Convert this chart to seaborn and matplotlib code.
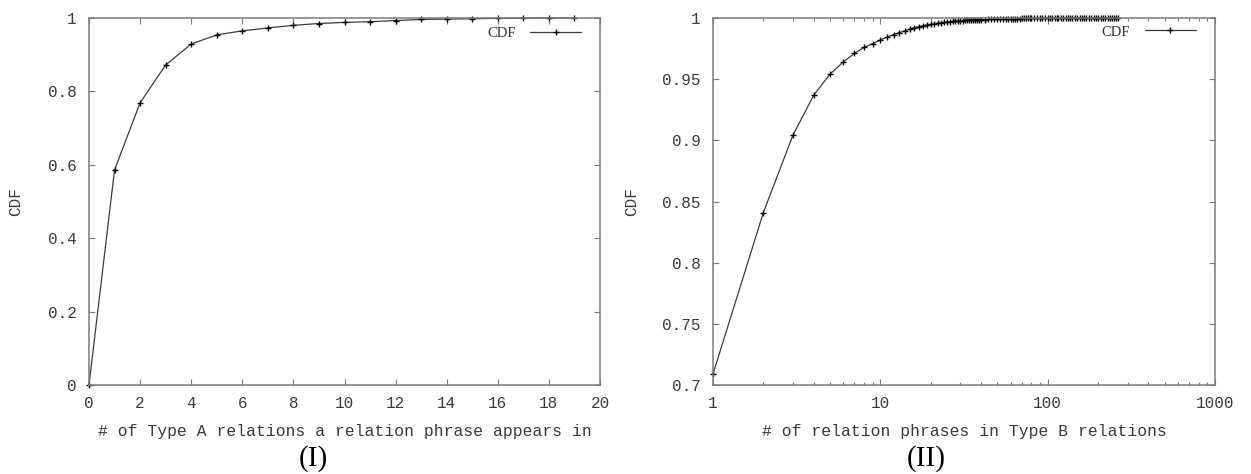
import matplotlib
matplotlib.use("Agg")
import matplotlib.pyplot as plt
import seaborn as sns
import pandas as pd
from matplotlib.ticker import FixedLocator, FuncFormatter, LogLocator, NullFormatter

# ---------------- data ----------------
a_x = [0, 1, 2, 3, 4, 5, 6, 7, 8, 9, 10, 11, 12, 13, 14, 15, 16, 17, 18, 19]
a_cdf = [0.0, 0.586, 0.769, 0.872, 0.929, 0.954, 0.965, 0.973, 0.980, 0.985,
         0.988, 0.990, 0.993, 0.996, 0.997, 0.998, 0.999, 0.9995, 0.9998, 1.0]

b_x = [1, 2, 3, 4, 5, 6, 7, 8, 9, 10, 11, 12, 13, 14, 15, 16, 17, 18, 19, 20,
       21, 22, 23, 24, 25, 26, 27, 28, 29, 30, 31, 32, 33, 34, 35, 36, 37, 38,
       39, 40, 42, 44, 46, 48, 50, 52, 54, 56, 58, 60, 62, 64, 66, 68, 70, 72,
       74, 76, 78, 80, 83, 86, 90, 93, 96, 100, 103, 106, 110, 113, 116, 120,
       124, 128, 132, 136, 140, 145, 150, 155, 160, 165, 170, 176, 182, 188,
       194, 200, 207, 214, 221, 228, 235, 242, 250, 257, 264]
b_cdf = [0.709, 0.841, 0.904, 0.937, 0.954, 0.964, 0.971, 0.976, 0.979, 0.982,
         0.9845, 0.9865, 0.988, 0.9895, 0.991, 0.992, 0.993, 0.9937, 0.9943, 0.9948,
         0.9953, 0.9957, 0.9961, 0.9964, 0.9967, 0.9970, 0.9972, 0.9974, 0.9976, 0.9978,
         0.9979, 0.9980, 0.9981, 0.9982, 0.9983, 0.9984, 0.99845, 0.9985, 0.99855, 0.9986,
         0.9987, 0.9988, 0.9989, 0.9990, 0.9991, 0.99915, 0.9992, 0.99925, 0.9993, 0.99935,
         0.9994, 0.99945, 0.9995, 0.99955, 0.9996, 0.99962, 0.99964, 0.99966, 0.99968, 0.9997,
         0.99972, 0.99974, 0.99976, 0.99978, 0.9998, 0.99982, 0.99983, 0.99984, 0.99985, 0.99986,
         0.99987, 0.99988, 0.99989, 0.9999, 0.99991, 0.99992, 0.99993, 0.99994, 0.99995, 0.99995,
         0.99996, 0.99996, 0.99997, 0.99997, 0.99998, 0.99998, 0.99999, 0.99999, 0.99999, 1.0,
         1.0, 1.0, 1.0, 1.0, 1.0, 1.0, 1.0]

a_xticks = [0, 2, 4, 6, 8, 10, 12, 14, 16, 18, 20]
a_yticks = [0, 0.2, 0.4, 0.6, 0.8, 1.0]
b_xticks = [1, 10, 100, 1000]
b_yticks = [0.7, 0.75, 0.8, 0.85, 0.9, 0.95, 1.0]

a_xlabel = "# of Type A relations a relation phrase appears in"
b_xlabel = "# of relation phrases in Type B relations"
y_label = "CDF"
series_name = "CDF"
panel_labels = ["(I)", "(II)"]

# ---------------- style ----------------
sns.set_style("ticks")
plt.rcParams["font.family"] = ["Liberation Mono", "DejaVu Sans Mono"]

W, H = 1251, 474
fig = plt.figure(figsize=(W / 100, H / 100), dpi=100)
ax1 = fig.add_axes([89 / W, 1 - 385 / H, 511 / W, 367 / H])
ax2 = fig.add_axes([713 / W, 1 - 385 / H, 502 / W, 367 / H])

dfA = pd.DataFrame({"x": a_x, "cdf": a_cdf})
dfB = pd.DataFrame({"x": b_x, "cdf": b_cdf})

line_kw = dict(color="#3c3c3c", linewidth=0.9, marker="+", markersize=4.8,
               markeredgecolor="black", markeredgewidth=1.0, clip_on=False,
               label=series_name)
sns.lineplot(data=dfA, x="x", y="cdf", ax=ax1, **line_kw)
sns.lineplot(data=dfB, x="x", y="cdf", ax=ax2, **line_kw)

spine_col = "#7a7a7a"
lab_col = "#3a3a3a"
fmt = FuncFormatter(lambda v, p: "%g" % round(v, 6))

for ax in (ax1, ax2):
    for s in ax.spines.values():
        s.set_visible(True)
        s.set_color(spine_col)
        s.set_linewidth(1.1)
    ax.tick_params(which="major", direction="in", top=True, right=True,
                   length=4.5, width=0.8, color=spine_col, labelcolor=lab_col,
                   labelsize=11.5)
    ax.tick_params(axis="y", pad=9)
    ax.tick_params(axis="x", pad=8)
    ax.set_ylabel(y_label, fontsize=11.5, color=lab_col)
    ax.grid(False)

# left panel
ax1.set_xlim(0, 20)
ax1.set_ylim(0, 1)
ax1.xaxis.set_major_locator(FixedLocator(a_xticks))
ax1.yaxis.set_major_locator(FixedLocator(a_yticks))
ax1.xaxis.set_major_formatter(fmt)
ax1.yaxis.set_major_formatter(fmt)
ax1.set_xlabel(a_xlabel, fontsize=11.8, color=lab_col)
ax1.xaxis.set_label_coords(0.5, -0.105)
ax1.yaxis.set_label_coords(-0.128, 0.5)

# right panel
ax2.set_xscale("log")
ax2.set_xlim(1, 1000)
ax2.set_ylim(0.7, 1.0)
ax2.xaxis.set_major_locator(FixedLocator(b_xticks))
ax2.xaxis.set_minor_locator(LogLocator(base=10, subs=[2, 3, 4, 5, 6, 7, 8, 9]))
ax2.xaxis.set_minor_formatter(NullFormatter())
ax2.yaxis.set_major_locator(FixedLocator(b_yticks))
ax2.xaxis.set_major_formatter(fmt)
ax2.yaxis.set_major_formatter(fmt)
ax2.tick_params(which="minor", direction="in", top=True, length=2.3, width=0.8,
                color=spine_col)
ax2.set_xlabel(b_xlabel, fontsize=11.8, color=lab_col)
ax2.xaxis.set_label_coords(0.5, -0.105)
ax2.yaxis.set_label_coords(-0.148, 0.5)

for ax, xr, yr in ((ax1, 0.963, 0.959), (ax2, 0.962, 0.962)):
    leg = ax.legend(loc="center right", bbox_to_anchor=(xr, yr), frameon=False,
                    markerfirst=False, handlelength=3.5, handletextpad=1.0,
                    borderpad=0, borderaxespad=0, numpoints=1,
                    prop={"family": "Liberation Serif", "size": 10.5})
    for t in leg.get_texts():
        t.set_color("#333333")

fig.text(313 / W, 1 - 459 / H, panel_labels[0], ha="center", va="center",
         family="Liberation Serif", fontsize=21, color="black")
fig.text(926 / W, 1 - 459 / H, panel_labels[1], ha="center", va="center",
         family="Liberation Serif", fontsize=21, color="black")

fig.savefig("out.png", dpi=100)
